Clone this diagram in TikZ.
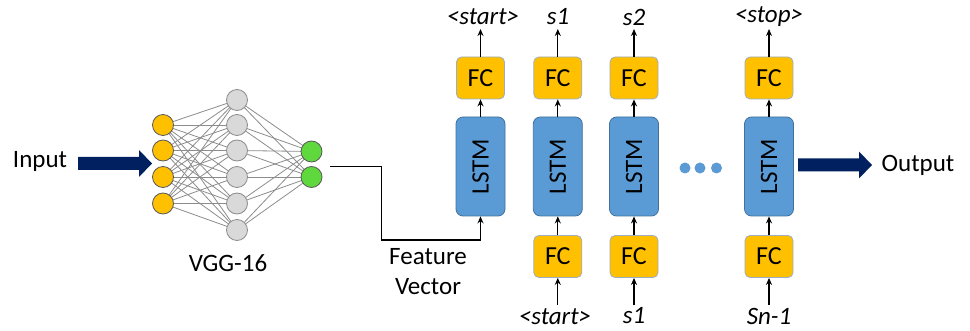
\documentclass[tikz,border=0pt]{standalone}
\usepackage{fontspec}
\setmainfont{Carlito}
\usetikzlibrary{arrows.meta}
\definecolor{fcor}{HTML}{FFC000}
\definecolor{fcbd}{HTML}{9DAEC4}
\definecolor{lstm}{HTML}{5B9BD5}
\definecolor{lstmbd}{HTML}{41719C}
\definecolor{navy}{HTML}{002060}
\definecolor{grn}{HTML}{5FD83D}
\definecolor{gry}{HTML}{D9D9D9}
\tikzset{
  fcbox/.style={draw=fcbd,line width=0.8pt,fill=fcor,rounded corners=5pt,minimum width=48pt,minimum height=42pt,inner sep=0pt,font=\fontsize{26}{28}\selectfont},
  lstmbox/.style={draw=lstmbd,line width=0.8pt,fill=lstm,rounded corners=7pt,minimum width=49pt,minimum height=99pt,inner sep=0pt},
  lbl/.style={font=\fontsize{25}{27}\selectfont\itshape,inner sep=0pt},
  txt/.style={font=\fontsize{25}{27}\selectfont,inner sep=0pt},
  neu/.style={circle,draw=#1,line width=0.8pt,minimum size=21pt,inner sep=0pt},
  edge/.style={draw=black!45,line width=0.8pt},
  sarr/.style={-{Stealth[length=7pt,width=6pt]},line width=1.3pt},
  dot/.style={circle,fill=lstm,minimum size=11pt,inner sep=0pt}
}
\begin{document}
\begin{tikzpicture}[x=1pt,y=-1pt]
\useasboundingbox (0,0) rectangle (970,331);
% neural net: coordinates first
\foreach \i/\y in {1/125,2/150.5,3/177,4/203.5}{\coordinate (o\i) at (163,\y);}
\foreach \i/\y in {1/100,2/125,3/150.5,4/177,5/203.5,6/230}{\coordinate (g\i) at (237,\y);}
\foreach \i/\y in {1/151.5,2/177}{\coordinate (n\i) at (311.5,\y);}
\foreach \a in {1,...,4}{\foreach \b in {1,...,6}{\draw[edge] (o\a) -- (g\b);}}
\foreach \b in {1,...,6}{\foreach \c in {1,2}{\draw[edge] (g\b) -- (n\c);}}
\foreach \i in {1,...,4}{\node[neu=black!65,fill=fcor] (O\i) at (o\i) {};}
\foreach \i in {1,...,6}{\node[neu=black!45,fill=gry] (G\i) at (g\i) {};}
\foreach \i in {1,2}{\node[neu=black!65,fill=grn] (N\i) at (n\i) {};}
\node[txt] (vgg) at (228,263) {VGG-16};
\node[txt] (input) at (40,161) {Input};
% input block arrow
\coordinate (ia) at (78,163.5);
\fill[navy] (ia) ++(0,-6.5) -- ++(61,0) -- ++(0,-7) -- ++(13,13.5) -- ++(-13,13.5) -- ++(0,-7) -- ++(-61,0) -- cycle;
% LSTM columns
\foreach \k/\x in {1/480.5,2/557.8,3/634,4/769}{
  \node[lstmbox] (L\k) at (\x,166.5) {\rotatebox{90}{\fontsize{25}{27}\selectfont LSTM}};
  \node[fcbox] (T\k) at (\x,78) {FC};
  \draw[sarr] (L\k.north) -- (T\k.south);
}
\foreach \k in {2,3,4}{
  \node[fcbox] (B\k) at (L\k |- 0,256.5) {FC};
  \draw[sarr] (B\k.north) -- (L\k.south);
}
\node[lbl] (t1) at (483,17) {<start>};
\node[lbl] (t2) at (558,17) {s1};
\node[lbl] (t3) at (634,17) {s2};
\node[lbl] (t4) at (769,17) {<stop>};
\foreach \k in {1,2,3,4}{\draw[sarr] (T\k.north) -- (T\k.north |- 0,29);}
\node[lbl] (b2) at (555,317) {<start>};
\node[lbl] (b3) at (634,316) {s1};
\node[lbl] (b4) at (769,316) {Sn-1};
\foreach \k in {2,3,4}{\draw[sarr] (B\k.south |- 0,305) -- (B\k.south);}
% feature vector connector
\coordinate (fs) at (330,166.5);
\coordinate (fv1) at (381.5,240);
\draw[sarr,line width=1.5pt] (fs) -| (fv1) -| (L1.south);
\node[txt,align=center] (fv) at (428,271.5) {Feature\\[3pt]Vector};
% dots
\node[dot] (d1) at (685,168) {};
\node[dot] (d2) at (700,168) {};
\node[dot] (d3) at (716.5,168) {};
% output arrow
\coordinate (oa) at (798,165);
\fill[navy] (oa) ++(0,-6.5) -- ++(61,0) -- ++(0,-7) -- ++(13,13.5) -- ++(-13,13.5) -- ++(0,-7) -- ++(-61,0) -- cycle;
\node[txt] (output) at (918,165) {Output};
\end{tikzpicture}
\end{document}
